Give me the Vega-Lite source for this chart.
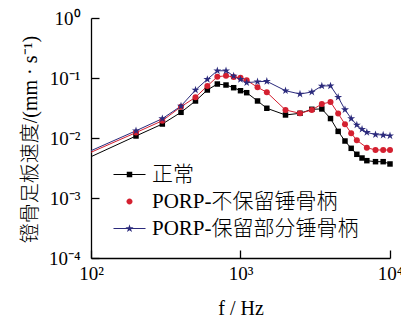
{
"$schema": "https://vega.github.io/schema/vega-lite/v6.json",
"width": 299, "height": 240,
"autosize": {"type": "none"},
"padding": {"left": 91, "top": 18, "right": 11, "bottom": 66},
"config": {"view": {"stroke": null}, "font": "Liberation Serif, Noto Sans CJK SC",
 "axis": {"domainColor": "#000", "domainWidth": 1.3, "tickColor": "#000", "tickWidth": 1.3, "tickSize": -8, "labelColor": "#000", "titleColor": "#000", "grid": false, "labelFont": "Liberation Serif", "labelFontSize": 19, "titleFont": "Liberation Serif, Noto Sans CJK SC", "titleFontSize": 20, "titleFontWeight": 300}},
"data": {"values": [
{"s":"正常","f":100,"v":0.00488},{"s":"正常","f":200,"v":0.0108},{"s":"正常","f":300,"v":0.0171},{"s":"正常","f":400,"v":0.0268},{"s":"正常","f":500,"v":0.0414},{"s":"正常","f":600,"v":0.0631},{"s":"正常","f":700,"v":0.0794},{"s":"正常","f":800,"v":0.0764},{"s":"正常","f":900,"v":0.0689},{"s":"正常","f":1000,"v":0.0614},{"s":"正常","f":1100,"v":0.0569},{"s":"正常","f":1300,"v":0.0414},{"s":"正常","f":1500,"v":0.0313},{"s":"正常","f":2000,"v":0.0242},{"s":"正常","f":2500,"v":0.0258},{"s":"正常","f":3000,"v":0.0301},{"s":"正常","f":3500,"v":0.0305},{"s":"正常","f":4000,"v":0.0211},{"s":"正常","f":4500,"v":0.0129},{"s":"正常","f":5000,"v":0.00891},{"s":"正常","f":5500,"v":0.00673},{"s":"正常","f":6000,"v":0.00535},{"s":"正常","f":6500,"v":0.00464},{"s":"正常","f":7000,"v":0.00419},{"s":"正常","f":8000,"v":0.00403},{"s":"正常","f":9000,"v":0.00403},{"s":"正常","f":10000,"v":0.00369},
{"s":"PORP-不保留锤骨柄","f":100,"v":0.00578},{"s":"PORP-不保留锤骨柄","f":200,"v":0.0123},{"s":"PORP-不保留锤骨柄","f":300,"v":0.0194},{"s":"PORP-不保留锤骨柄","f":400,"v":0.0332},{"s":"PORP-不保留锤骨柄","f":500,"v":0.0477},{"s":"PORP-不保留锤骨柄","f":600,"v":0.0736},{"s":"PORP-不保留锤骨柄","f":700,"v":0.105},{"s":"PORP-不保留锤骨柄","f":800,"v":0.109},{"s":"PORP-不保留锤骨柄","f":900,"v":0.104},{"s":"PORP-不保留锤骨柄","f":1000,"v":0.101},{"s":"PORP-不保留锤骨柄","f":1100,"v":0.0916},{"s":"PORP-不保留锤骨柄","f":1300,"v":0.07},{"s":"PORP-不保留锤骨柄","f":1500,"v":0.0578},{"s":"PORP-不保留锤骨柄","f":2000,"v":0.0293},{"s":"PORP-不保留锤骨柄","f":2500,"v":0.0258},{"s":"PORP-不保留锤骨柄","f":3000,"v":0.0293},{"s":"PORP-不保留锤骨柄","f":3500,"v":0.0369},{"s":"PORP-不保留锤骨柄","f":4000,"v":0.0398},{"s":"PORP-不保留锤骨柄","f":4500,"v":0.0256},{"s":"PORP-不保留锤骨柄","f":5000,"v":0.017},{"s":"PORP-不保留锤骨柄","f":5500,"v":0.012},{"s":"PORP-不保留锤骨柄","f":6000,"v":0.00916},{"s":"PORP-不保留锤骨柄","f":7000,"v":0.0069},{"s":"PORP-不保留锤骨柄","f":8000,"v":0.00631},{"s":"PORP-不保留锤骨柄","f":9000,"v":0.00631},{"s":"PORP-不保留锤骨柄","f":10000,"v":0.00631},
{"s":"PORP-保留部分锤骨柄","f":100,"v":0.00614},{"s":"PORP-保留部分锤骨柄","f":200,"v":0.0132},{"s":"PORP-保留部分锤骨柄","f":300,"v":0.021},{"s":"PORP-保留部分锤骨柄","f":400,"v":0.0341},{"s":"PORP-保留部分锤骨柄","f":500,"v":0.0631},{"s":"PORP-保留部分锤骨柄","f":600,"v":0.0951},{"s":"PORP-保留部分锤骨柄","f":700,"v":0.132},{"s":"PORP-保留部分锤骨柄","f":800,"v":0.132},{"s":"PORP-保留部分锤骨柄","f":900,"v":0.108},{"s":"PORP-保留部分锤骨柄","f":1000,"v":0.0951},{"s":"PORP-保留部分锤骨柄","f":1100,"v":0.0835},{"s":"PORP-保留部分锤骨柄","f":1300,"v":0.0868},{"s":"PORP-保留部分锤骨柄","f":1500,"v":0.0881},{"s":"PORP-保留部分锤骨柄","f":2000,"v":0.0614},{"s":"PORP-保留部分锤骨柄","f":2500,"v":0.0541},{"s":"PORP-保留部分锤骨柄","f":3000,"v":0.0584},{"s":"PORP-保留部分锤骨柄","f":3500,"v":0.0736},{"s":"PORP-保留部分锤骨柄","f":4000,"v":0.0741},{"s":"PORP-保留部分锤骨柄","f":4500,"v":0.0479},{"s":"PORP-保留部分锤骨柄","f":5000,"v":0.0297},{"s":"PORP-保留部分锤骨柄","f":5500,"v":0.0211},{"s":"PORP-保留部分锤骨柄","f":6000,"v":0.0165},{"s":"PORP-保留部分锤骨柄","f":6500,"v":0.014},{"s":"PORP-保留部分锤骨柄","f":7000,"v":0.0124},{"s":"PORP-保留部分锤骨柄","f":8000,"v":0.0114},{"s":"PORP-保留部分锤骨柄","f":9000,"v":0.0112},{"s":"PORP-保留部分锤骨柄","f":10000,"v":0.0109}
]},
"encoding": {
 "x": {"field": "f", "type": "quantitative", "scale": {"type": "log", "domain": [100, 10000]},
  "axis": {"values": [100, 1000, 10000], "labelExpr": "datum.value < 500 ? '10²' : datum.value < 5000 ? '10³' : '10⁴'", "title": "f / Hz", "labelPadding": 14, "titlePadding": 15, "labelFlush": false}},
 "y": {"field": "v", "type": "quantitative", "scale": {"type": "log", "domain": [0.0001, 1]},
  "axis": {"values": [0.0001, 0.001, 0.01, 0.1, 1], "labelExpr": "datum.value >= 0.5 ? '10⁰' : datum.value >= 0.05 ? '10⁻¹' : datum.value >= 0.005 ? '10⁻²' : datum.value >= 0.0005 ? '10⁻³' : '10⁻⁴'", "title": "镫骨足板速度/(mm · s⁻¹)", "labelPadding": 19, "titleX": -61, "titleY": 121, "titleBaseline": "middle", "labelFlush": false}}
},
"layer": [
 {"transform": [{"filter": "datum.s == '正常'"}], "mark": {"type": "line", "strokeWidth": 1, "color": "#000000"}},
 {"transform": [{"filter": "datum.s == 'PORP-不保留锤骨柄'"}], "mark": {"type": "line", "strokeWidth": 1, "color": "#d42030"}},
 {"transform": [{"filter": "datum.s == 'PORP-保留部分锤骨柄'"}], "mark": {"type": "line", "strokeWidth": 1, "color": "#2b2a7c"}},
 {"transform": [{"filter": "datum.f > 100 && datum.s == '正常'"}],
  "mark": {"type": "point", "filled": true, "opacity": 1, "shape": "square", "size": 30, "color": "#000000"}},
 {"transform": [{"filter": "datum.f > 100 && datum.s == 'PORP-不保留锤骨柄'"}],
  "mark": {"type": "point", "filled": true, "opacity": 1, "shape": "circle", "size": 36, "color": "#d42030"}},
 {"transform": [{"filter": "datum.f > 100 && datum.s == 'PORP-保留部分锤骨柄'"}],
  "mark": {"type": "point", "filled": true, "opacity": 1, "size": 70, "color": "#2b2a7c", "shape": "M0,-1L0.225,-0.309L0.951,-0.309L0.363,0.118L0.588,0.809L0,0.382L-0.588,0.809L-0.363,0.118L-0.951,-0.309L-0.225,-0.309Z"}},
 {"mark": {"type": "point", "filled": true, "opacity": 0},
  "encoding": {
   "color": {"field": "s", "type": "nominal", "scale": {"domain": ["正常", "PORP-不保留锤骨柄", "PORP-保留部分锤骨柄"], "range": ["#000000", "#d42030", "#2b2a7c"]},
    "legend": {"orient": "none", "legendX": 28, "legendY": 146, "title": null, "padding": 0, "symbolSize": 100, "symbolStrokeWidth": 0, "symbolOpacity": 1, "labelFontSize": 21, "labelFont": "Liberation Serif, Noto Sans CJK SC", "labelFontWeight": 300, "labelColor": "#000", "labelOffset": 12, "rowPadding": 5, "labelLimit": 400}},
   "shape": {"field": "s", "type": "nominal", "scale": {"domain": ["正常", "PORP-不保留锤骨柄", "PORP-保留部分锤骨柄"], "range": ["M-3.2,-0.1L3.2,-0.1L3.2,0.1L-3.2,0.1ZM-0.55,-0.55L0.55,-0.55L0.55,0.55L-0.55,0.55Z", "M-0.6,0A0.6,0.6,0,1,0,0.6,0A0.6,0.6,0,1,0,-0.6,0Z", "M-3.2,-0.1L3.2,-0.1L3.2,0.1L-3.2,0.1ZM0,-0.85L0.19,-0.26L0.81,-0.26L0.31,0.1L0.5,0.69L0,0.325L-0.5,0.69L-0.31,0.1L-0.81,-0.26L-0.19,-0.26Z"]},
    "legend": {"orient": "none", "legendX": 28, "legendY": 146, "title": null, "padding": 0, "symbolSize": 100, "symbolStrokeWidth": 0, "symbolOpacity": 1, "labelFontSize": 21, "labelFont": "Liberation Serif, Noto Sans CJK SC", "labelFontWeight": 300, "labelColor": "#000", "labelOffset": 12, "rowPadding": 5, "labelLimit": 400}}}}
]
}
